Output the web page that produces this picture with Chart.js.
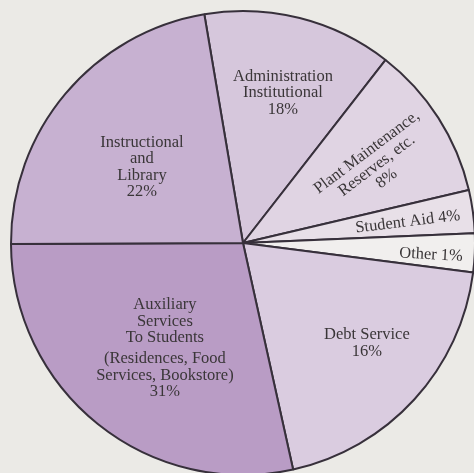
<!DOCTYPE html>
<html>
<head>
<meta charset="utf-8">
<script src="https://cdn.jsdelivr.net/npm/chart.js@4.4.1/dist/chart.umd.min.js"></script>
<style>
  html, body { margin: 0; padding: 0; background: #ebeae6; }
  #wrap { width: 474px; height: 473px; position: relative; }
</style>
</head>
<body>
<div id="wrap"><canvas id="c" width="474" height="473"></canvas></div>
<script>
// ---- data ----
const categories = [
  "Administration Institutional",
  "Plant Maintenance, Reserves, etc.",
  "Student Aid",
  "Other",
  "Debt Service",
  "Auxiliary Services To Students (Residences, Food Services, Bookstore)",
  "Instructional and Library"
];
// percentages printed on the chart
const printedPercent = [18, 8, 4, 1, 16, 31, 22];
// slice sizes as drawn in the picture (% of the circle, estimated)
const drawnShare = [13.2, 10.8, 3.0, 2.7, 19.5, 28.4, 22.4];
// label text lines (percentage appended from printedPercent)
const labelLines = [
  ["Administration", "Institutional"],
  ["Plant Maintenance,", "Reserves, etc."],
  ["Student Aid"],
  ["Other"],
  ["Debt Service"],
  ["Auxiliary", "Services", "To Students", "", "(Residences, Food", "Services, Bookstore)"],
  ["Instructional", "and", "Library"]
];

// ---- styling / layout ----
const sliceColors = ["#d6c7dc", "#e0d4e3", "#e8e0e8", "#f1efee", "#dacce0", "#b99cc5", "#c7b1d1"];
// label anchor: angle (deg clockwise from top), radius fraction, rotation, percent on same line
const labelLayout = [
  {a: 14.9, r: 0.670, rot: 0, inline: false},
  {a: 59.9, r: 0.666, rot: -37, inline: false},
  {a: 82.7, r: 0.716, rot: -7, inline: true},
  {a: 93.6, r: 0.812, rot: 3, inline: true},
  {a: 129.0, r: 0.687, rot: 0, inline: false},
  {a: 216.5, r: 0.566, rot: 0, inline: false},
  {a: 306.8, r: 0.544, rot: 0, inline: false}
];
const FONT = '16.5px "Liberation Serif", "DejaVu Serif", serif';
const LINE_H = 16.5;
const GAP_H = 4.5;

const labelPlugin = {
  id: 'sliceLabels',
  afterDatasetsDraw(chart) {
    const meta = chart.getDatasetMeta(0);
    const arc0 = meta.data[0];
    const cx = arc0.x, cy = arc0.y, R = arc0.outerRadius;
    const ctx = chart.ctx;
    ctx.save();
    ctx.font = FONT;
    ctx.fillStyle = '#3a3638';
    ctx.textAlign = 'center';
    ctx.textBaseline = 'middle';
    labelLayout.forEach((L, i) => {
      let lines = labelLines[i].slice();
      const pct = printedPercent[i] + '%';
      if (L.inline) lines[lines.length - 1] += ' ' + pct; else lines.push(pct);
      const heights = lines.map(t => t === '' ? GAP_H : LINE_H);
      const total = heights.reduce((s, h) => s + h, 0);
      const ang = L.a * Math.PI / 180;
      const x = cx + L.r * R * Math.sin(ang);
      const y = cy - L.r * R * Math.cos(ang);
      ctx.save();
      ctx.translate(x, y);
      ctx.rotate(L.rot * Math.PI / 180);
      let yy = -total / 2;
      lines.forEach((t, k) => {
        if (t !== '') ctx.fillText(t, 0, yy + heights[k] / 2);
        yy += heights[k];
      });
      ctx.restore();
    });
    ctx.restore();
  }
};

new Chart(document.getElementById('c'), {
  type: 'pie',
  data: {
    labels: categories,
    datasets: [{
      data: drawnShare,
      backgroundColor: sliceColors,
      borderColor: '#37303b',
      borderWidth: 2,
      clip: false
    }]
  },
  options: {
    responsive: false,
    animation: false,
    rotation: -9.6,
    radius: 232,
    layout: { padding: { left: 12, right: 0, top: 13, bottom: 0 } },
    plugins: { legend: { display: false }, tooltip: { enabled: false } }
  },
  plugins: [labelPlugin]
});
</script>
</body>
</html>
